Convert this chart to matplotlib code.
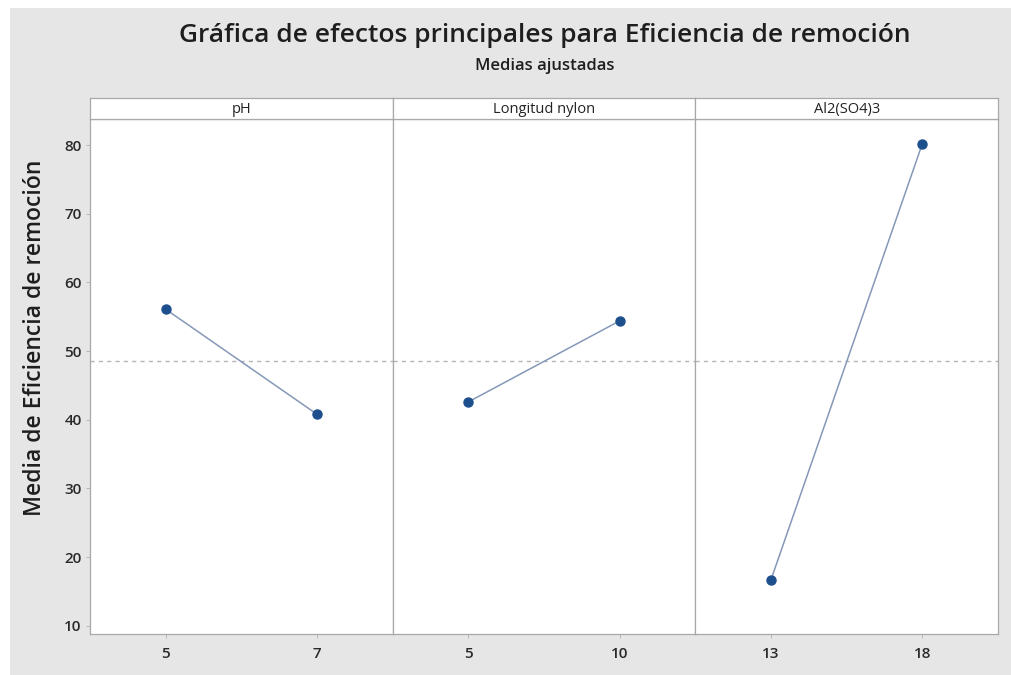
import matplotlib.pyplot as plt
from matplotlib.patches import Rectangle

plt.rcParams['font.family'] = ['Open Sans', 'DejaVu Sans']

# Data
factors = ['pH', 'Longitud nylon', 'Al2(SO4)3']
levels = [['5', '7'], ['5', '10'], ['13', '18']]
means = [[56.1, 40.8], [42.6, 54.4], [16.7, 80.2]]
grand_mean = 48.5
y_ticks = [10, 20, 30, 40, 50, 60, 70, 80]

W, H = 1011, 675
fig = plt.figure(figsize=(W / 100, H / 100), dpi=100, facecolor='white')
# gray background with thin white border at left/top
fig.patches.append(Rectangle((10 / W, 0), 1, 1 - 8 / H, transform=fig.transFigure,
                             facecolor='#e6e6e6', edgecolor='none', zorder=-10))

left, right = 90, 998
top, bottom = 119, 634
strip_top = 98
pw = (right - left) / 3

edge = '#a8a8a8'
for i, name in enumerate(factors):
    x0 = left + i * pw
    ax = fig.add_axes([x0 / W, 1 - bottom / H, pw / W, (bottom - top) / H])
    ax.set_facecolor('white')
    xs = [0, 1]
    ax.axhline(grand_mean, color='#b5b5b5', lw=1, ls=(0, (3, 3)), zorder=1)
    ax.plot(xs, means[i], color='#8598b8', lw=1.1, zorder=2)
    ax.plot(xs, means[i], 'o', color='#1d4f8d', ms=6.5, zorder=3)
    ax.set_xlim(-0.5, 1.5)
    ax.set_ylim(8.8, 83.8)
    ax.set_xticks(xs)
    ax.set_xticklabels(levels[i], fontsize=11, color='#2a2a2a', fontweight='semibold')
    ax.set_yticks(y_ticks)
    if i == 0:
        ax.set_yticklabels([str(t) for t in y_ticks], fontsize=11, color='#2a2a2a',
                           fontweight='semibold')
        ax.tick_params(axis='y', length=3, width=0.6, color='#b0b0b0', pad=3)
    else:
        ax.tick_params(axis='y', length=0, labelleft=False)
    ax.tick_params(axis='x', length=3, width=0.6, color='#b0b0b0', pad=6)
    for s in ax.spines.values():
        s.set_color(edge)
        s.set_linewidth(0.9)

    # strip header
    sax = fig.add_axes([x0 / W, 1 - top / H, pw / W, (top - strip_top) / H])
    sax.set_facecolor('white')
    sax.set_xticks([])
    sax.set_yticks([])
    for s in sax.spines.values():
        s.set_color(edge)
        s.set_linewidth(0.9)
    sax.text(0.5, 0.45, name, ha='center', va='center', fontsize=10.5, color='#222222',
             transform=sax.transAxes)

fig.text(545 / W, 1 - 36 / H, 'Gráfica de efectos principales para Eficiencia de remoción',
         ha='center', va='center', fontsize=19, color='#1e1e1e', fontweight='semibold')
fig.text(545 / W, 1 - 66 / H, 'Medias ajustadas', ha='center', va='center',
         fontsize=12, color='#1e1e1e', fontweight='semibold')
fig.text(35 / W, 1 - 338 / H, 'Media de Eficiencia de remoción', rotation=90,
         ha='center', va='center', fontsize=16.5, color='#1e1e1e', fontweight='semibold')

fig.savefig('out.png', dpi=100, facecolor=fig.get_facecolor())
